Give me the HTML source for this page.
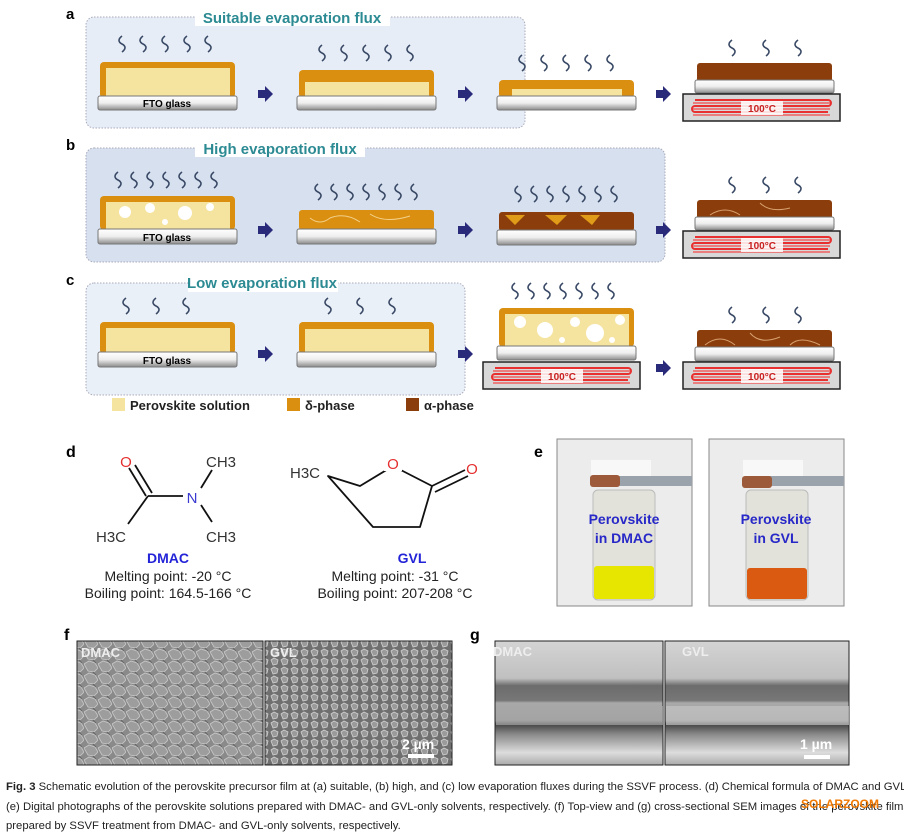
<!DOCTYPE html>
<html><head><meta charset="utf-8"><style>
body{margin:0;background:#fff;width:904px;height:838px;overflow:hidden;position:relative}
svg{display:block}
text{font-family:"Liberation Sans",sans-serif}
.cap{position:absolute;left:6px;font:11.3px "Liberation Sans",sans-serif;color:#222;white-space:nowrap}
</style></head><body>
<svg width="904" height="838" viewBox="0 0 904 838">
<defs>
<linearGradient id="gl" x1="0" y1="0" x2="0" y2="1"><stop offset="0" stop-color="#fff"/><stop offset="0.5" stop-color="#eee"/><stop offset="1" stop-color="#8a8a8a"/></linearGradient>
<path id="sq" d="M0,0 c-4,3 -4,6 0,8 c4,2 4,5 0,8" fill="none" stroke="#3a4a66" stroke-width="1.6"/>
<g id="arr"><path d="M0,-4 h7 v-4 l8,8 l-8,8 v-4 h-7z" fill="#2a2a7a"/></g>
<g id="hot"><rect x="0" y="0" width="157" height="27" fill="#d8d8d8" stroke="#222" stroke-width="1.5"/>
<path d="M12,6 h133 a3,3 0 0 1 0,6 h-133 a3,3 0 0 0 0,6 h133" fill="none" stroke="#e83030" stroke-width="2"/>
<path d="M10,9 h137 M10,15 h137 M10,21 h137" stroke="#f06060" stroke-width="1.5"/>
<rect x="58" y="7" width="42" height="14" fill="#fff" opacity=".85"/>
<text x="79" y="18" font-size="10" font-weight="bold" fill="#c82020" text-anchor="middle">100°C</text></g>
<pattern id="semf" width="14" height="12" patternUnits="userSpaceOnUse"><rect width="14" height="12" fill="#8a8a8a"/><path d="M0,4 l5,-3 l6,2 l3,5 l-4,4 l-6,-1z" fill="#9d9d9d" stroke="#c8c8c8" stroke-width=".8"/><path d="M9,0 l3,3" stroke="#666"/></pattern>
<pattern id="semg" width="10" height="9" patternUnits="userSpaceOnUse"><rect width="10" height="9" fill="#6f6f6f"/><path d="M1,3 l3,-2 l4,2 l-1,4 l-4,1z" fill="#9a9a9a" stroke="#d0d0d0" stroke-width=".8"/></pattern>
<linearGradient id="xs" x1="0" y1="0" x2="0" y2="1"><stop offset="0" stop-color="#d4d4d4"/><stop offset=".3" stop-color="#c0c0c0"/><stop offset=".36" stop-color="#6c6c6c"/><stop offset=".48" stop-color="#777"/><stop offset=".5" stop-color="#aaa"/><stop offset=".64" stop-color="#999"/><stop offset=".67" stop-color="#444"/><stop offset=".75" stop-color="#888"/><stop offset=".9" stop-color="#ddd"/><stop offset="1" stop-color="#aaa"/></linearGradient>
</defs>

<text x="66" y="19" font-size="15" font-weight="bold">a</text>
<rect x="86" y="17" width="439" height="111" rx="8" fill="#e6edf7" stroke="#aab" stroke-dasharray="1.5,1.5"/>
<rect x="195" y="10" width="195" height="16" fill="#fff"/>
<text x="292" y="23" font-size="15" font-weight="bold" fill="#2c8a93" text-anchor="middle">Suitable evaporation flux</text>
<rect x="100" y="62" width="135" height="36" rx="4" fill="#da8f10"/><rect x="106" y="68" width="124" height="30" fill="#f5e3a0"/>
<rect x="98" y="96" width="139" height="14" rx="2" fill="url(#gl)" stroke="#777"/><text x="167" y="107" font-size="10" font-weight="bold" text-anchor="middle">FTO glass</text>
<use href="#sq" x="122" y="36"/><use href="#sq" x="143" y="36"/><use href="#sq" x="165" y="36"/><use href="#sq" x="187" y="36"/><use href="#sq" x="208" y="36"/>
<use href="#arr" x="258" y="94"/>
<rect x="299" y="70" width="135" height="28" rx="4" fill="#da8f10"/><rect x="305" y="82" width="124" height="16" fill="#f5e3a0"/>
<rect x="297" y="96" width="139" height="14" rx="2" fill="url(#gl)" stroke="#777"/>
<use href="#sq" x="322" y="45"/><use href="#sq" x="344" y="45"/><use href="#sq" x="366" y="45"/><use href="#sq" x="388" y="45"/><use href="#sq" x="410" y="45"/>
<use href="#arr" x="458" y="94"/>
<rect x="499" y="80" width="135" height="18" rx="4" fill="#da8f10"/><rect x="512" y="89" width="110" height="9" fill="#f5e3a0"/>
<rect x="497" y="96" width="139" height="14" rx="2" fill="url(#gl)" stroke="#777"/>
<use href="#sq" x="522" y="55"/><use href="#sq" x="544" y="55"/><use href="#sq" x="566" y="55"/><use href="#sq" x="588" y="55"/><use href="#sq" x="610" y="55"/>
<use href="#arr" x="656" y="94"/>
<rect x="697" y="63" width="135" height="19" rx="3" fill="#8b3e0c"/>
<rect x="695" y="80" width="139" height="13" rx="2" fill="url(#gl)" stroke="#777"/>
<use href="#hot" x="683" y="94"/>
<use href="#sq" x="732" y="40"/><use href="#sq" x="766" y="40"/><use href="#sq" x="798" y="40"/>

<text x="66" y="150" font-size="15" font-weight="bold">b</text>
<rect x="86" y="148" width="579" height="114" rx="8" fill="#d6e0ef" stroke="#aab" stroke-dasharray="1.5,1.5"/>
<rect x="195" y="141" width="170" height="16" fill="#fff"/>
<text x="280" y="154" font-size="15" font-weight="bold" fill="#2c8a93" text-anchor="middle">High evaporation flux</text>
<rect x="100" y="196" width="135" height="34" rx="4" fill="#da8f10"/><rect x="106" y="202" width="124" height="28" fill="#f5e3a0"/>
<circle cx="125" cy="212" r="6" fill="#fff"/><circle cx="150" cy="208" r="5" fill="#fff"/><circle cx="185" cy="213" r="7" fill="#fff"/><circle cx="210" cy="207" r="4" fill="#fff"/><circle cx="165" cy="222" r="3" fill="#fff"/>
<rect x="98" y="229" width="139" height="15" rx="2" fill="url(#gl)" stroke="#777"/><text x="167" y="241" font-size="10" font-weight="bold" text-anchor="middle">FTO glass</text>
<use href="#sq" x="118" y="172"/><use href="#sq" x="134" y="172"/><use href="#sq" x="150" y="172"/><use href="#sq" x="166" y="172"/><use href="#sq" x="182" y="172"/><use href="#sq" x="198" y="172"/><use href="#sq" x="214" y="172"/>
<use href="#arr" x="258" y="230"/>
<rect x="299" y="210" width="135" height="20" rx="3" fill="#da8f10"/><path d="M310,218 q10,8 20,0 q15,-6 30,4 M370,214 q15,10 40,2" stroke="#f3d08a" fill="none"/>
<rect x="297" y="229" width="139" height="15" rx="2" fill="url(#gl)" stroke="#777"/>
<use href="#sq" x="318" y="184"/><use href="#sq" x="334" y="184"/><use href="#sq" x="350" y="184"/><use href="#sq" x="366" y="184"/><use href="#sq" x="382" y="184"/><use href="#sq" x="398" y="184"/><use href="#sq" x="414" y="184"/>
<use href="#arr" x="458" y="230"/>
<rect x="499" y="212" width="135" height="19" rx="3" fill="#8b3e0c"/><path d="M505,215 l20,0 l-10,10z M545,215 l22,0 l-10,10z M580,215 l20,0 l-8,10z" fill="#e09c18"/>
<rect x="497" y="230" width="139" height="15" rx="2" fill="url(#gl)" stroke="#777"/>
<use href="#sq" x="518" y="186"/><use href="#sq" x="534" y="186"/><use href="#sq" x="550" y="186"/><use href="#sq" x="566" y="186"/><use href="#sq" x="582" y="186"/><use href="#sq" x="598" y="186"/><use href="#sq" x="614" y="186"/>
<use href="#arr" x="656" y="230"/>
<rect x="697" y="200" width="135" height="19" rx="3" fill="#8b3e0c"/><path d="M710,215 q15,-10 30,0 M760,203 q10,10 30,5" stroke="#d8a070" fill="none"/>
<rect x="695" y="217" width="139" height="13" rx="2" fill="url(#gl)" stroke="#777"/>
<use href="#hot" x="683" y="231"/>
<use href="#sq" x="732" y="177"/><use href="#sq" x="766" y="177"/><use href="#sq" x="798" y="177"/>

<text x="66" y="285" font-size="15" font-weight="bold">c</text>
<rect x="86" y="283" width="379" height="112" rx="8" fill="#eaf0f8" stroke="#aab" stroke-dasharray="1.5,1.5"/>
<rect x="188" y="276" width="150" height="16" fill="#fff"/>
<text x="262" y="288" font-size="15" font-weight="bold" fill="#2c8a93" text-anchor="middle">Low evaporation flux</text>
<rect x="100" y="322" width="135" height="32" rx="4" fill="#da8f10"/><rect x="106" y="328" width="124" height="26" fill="#f5e3a0"/>
<rect x="98" y="352" width="139" height="15" rx="2" fill="url(#gl)" stroke="#777"/><text x="167" y="364" font-size="10" font-weight="bold" text-anchor="middle">FTO glass</text>
<use href="#sq" x="126" y="298"/><use href="#sq" x="156" y="298"/><use href="#sq" x="186" y="298"/>
<use href="#arr" x="258" y="354"/>
<rect x="299" y="322" width="135" height="32" rx="4" fill="#da8f10"/><rect x="305" y="329" width="124" height="25" fill="#f5e3a0"/>
<rect x="297" y="352" width="139" height="15" rx="2" fill="url(#gl)" stroke="#777"/>
<use href="#sq" x="328" y="298"/><use href="#sq" x="360" y="298"/><use href="#sq" x="392" y="298"/>
<use href="#arr" x="458" y="354"/>
<rect x="499" y="308" width="135" height="39" rx="4" fill="#da8f10"/><rect x="505" y="314" width="124" height="33" fill="#f5e3a0"/>
<circle cx="520" cy="322" r="6" fill="#fff"/><circle cx="545" cy="330" r="8" fill="#fff"/><circle cx="575" cy="322" r="5" fill="#fff"/><circle cx="595" cy="333" r="9" fill="#fff"/><circle cx="620" cy="320" r="5" fill="#fff"/><circle cx="562" cy="340" r="3" fill="#fff"/><circle cx="612" cy="340" r="3" fill="#fff"/>
<rect x="497" y="346" width="139" height="14" rx="2" fill="url(#gl)" stroke="#777"/>
<use href="#hot" x="483" y="362"/>
<use href="#sq" x="515" y="283"/><use href="#sq" x="531" y="283"/><use href="#sq" x="547" y="283"/><use href="#sq" x="563" y="283"/><use href="#sq" x="579" y="283"/><use href="#sq" x="595" y="283"/><use href="#sq" x="611" y="283"/>
<use href="#arr" x="656" y="368"/>
<rect x="697" y="330" width="135" height="19" rx="3" fill="#8b3e0c"/><path d="M705,345 q15,-12 30,0 M750,333 q10,12 30,4 M790,345 q10,-10 30,0" stroke="#d8a070" fill="none"/>
<rect x="695" y="347" width="139" height="14" rx="2" fill="url(#gl)" stroke="#777"/>
<use href="#hot" x="683" y="362"/>
<use href="#sq" x="732" y="307"/><use href="#sq" x="766" y="307"/><use href="#sq" x="798" y="307"/>

<rect x="112" y="398" width="13" height="13" fill="#f5e3a0"/><text x="130" y="410" font-size="13" font-weight="bold" fill="#222">Perovskite solution</text>
<rect x="287" y="398" width="13" height="13" fill="#da8f10"/><text x="305" y="410" font-size="13" font-weight="bold" fill="#222">δ-phase</text>
<rect x="406" y="398" width="13" height="13" fill="#8b3e0c"/><text x="424" y="410" font-size="13" font-weight="bold" fill="#222">α-phase</text>

<text x="66" y="457" font-size="16" font-weight="bold">d</text>
<g stroke="#111" stroke-width="1.8" fill="none">
<path d="M129,468 L146,496 M135,465 L152,493"/>
<path d="M148,496 L183,496"/>
<path d="M148,496 L128,524"/>
<path d="M201,488 L212,470"/>
<path d="M201,505 L212,522"/>
<path d="M328,476 L360,486 L393,466 L432,486 L420,527 L373,527 Z" stroke-linejoin="round"/>
<path d="M432,486 L465,470 M435,492 L468,476"/>
</g>
<rect x="384" y="455" width="18" height="16" fill="#fff"/>
<text x="126" y="467" font-size="15" fill="#e53030" text-anchor="middle">O</text>
<text x="192" y="503" font-size="15" fill="#3a3ad0" text-anchor="middle">N</text>
<text x="206" y="467" font-size="15" fill="#333">CH3</text>
<text x="206" y="542" font-size="15" fill="#333">CH3</text>
<text x="96" y="542" font-size="15" fill="#333">H3C</text>
<text x="393" y="469" font-size="15" fill="#e53030" text-anchor="middle">O</text>
<text x="472" y="474" font-size="15" fill="#e53030" text-anchor="middle">O</text>
<text x="290" y="478" font-size="15" fill="#333">H3C</text>
<text x="168" y="563" font-size="14" font-weight="bold" fill="#2323d8" text-anchor="middle">DMAC</text>
<text x="168" y="581" font-size="14" fill="#222" text-anchor="middle">Melting point: -20 °C</text>
<text x="168" y="598" font-size="14" fill="#222" text-anchor="middle">Boiling point: 164.5-166 °C</text>
<text x="412" y="563" font-size="14" font-weight="bold" fill="#2323d8" text-anchor="middle">GVL</text>
<text x="395" y="581" font-size="14" fill="#222" text-anchor="middle">Melting point: -31 °C</text>
<text x="395" y="598" font-size="14" fill="#222" text-anchor="middle">Boiling point: 207-208 °C</text>

<text x="534" y="457" font-size="16" font-weight="bold">e</text>
<rect x="557" y="439" width="135" height="167" fill="#ececec" stroke="#888"/>
<rect x="709" y="439" width="135" height="167" fill="#ececec" stroke="#888"/>
<rect x="591" y="460" width="60" height="18" fill="#f8f8f8"/>
<rect x="743" y="460" width="60" height="18" fill="#f8f8f8"/>
<rect x="593" y="490" width="62" height="110" rx="5" fill="#e2e2da" stroke="#bbb"/>
<rect x="746" y="490" width="62" height="110" rx="5" fill="#e2e2da" stroke="#bbb"/>
<rect x="594" y="566" width="60" height="33" rx="3" fill="#e6e600"/>
<rect x="747" y="568" width="60" height="31" rx="3" fill="#d95a10"/>
<rect x="605" y="476" width="87" height="10" fill="#9aa3ab"/><rect x="590" y="475" width="30" height="12" rx="3" fill="#9c5a3a"/>
<rect x="758" y="476" width="86" height="10" fill="#9aa3ab"/><rect x="742" y="476" width="30" height="12" rx="3" fill="#9c5a3a"/>
<text x="624" y="524" font-size="14" font-weight="bold" fill="#2828c8" text-anchor="middle">Perovskite</text>
<text x="624" y="543" font-size="14" font-weight="bold" fill="#2828c8" text-anchor="middle">in DMAC</text>
<text x="776" y="524" font-size="14" font-weight="bold" fill="#2828c8" text-anchor="middle">Perovskite</text>
<text x="776" y="543" font-size="14" font-weight="bold" fill="#2828c8" text-anchor="middle">in GVL</text>

<text x="64" y="640" font-size="16" font-weight="bold">f</text>
<rect x="77" y="641" width="186" height="124" fill="url(#semf)" stroke="#222"/>
<rect x="265" y="641" width="187" height="124" fill="url(#semg)" stroke="#222"/>
<text x="81" y="657" font-size="13" font-weight="bold" fill="#eee">DMAC</text>
<text x="270" y="657" font-size="13" font-weight="bold" fill="#eee">GVL</text>
<text x="402" y="749" font-size="14" font-weight="bold" fill="#fff">2 µm</text>
<rect x="408" y="754" width="26" height="4" fill="#fff"/>

<text x="470" y="640" font-size="16" font-weight="bold">g</text>
<rect x="495" y="641" width="168" height="124" fill="url(#xs)" stroke="#222"/>
<rect x="665" y="641" width="184" height="124" fill="url(#xs)" stroke="#222"/>
<rect x="496" y="706" width="167" height="19" fill="#a8a8a8" opacity=".7"/>
<rect x="666" y="706" width="183" height="19" fill="#c4c4c4" opacity=".7"/>
<text x="493" y="656" font-size="13" font-weight="bold" fill="#eee">DMAC</text>
<text x="682" y="656" font-size="13" font-weight="bold" fill="#eee">GVL</text>
<text x="800" y="749" font-size="14" font-weight="bold" fill="#fff">1 µm</text>
<rect x="804" y="755" width="26" height="4" fill="#fff"/>
</svg>
<div class="cap" style="top:781px"><b>Fig. 3</b> Schematic evolution of the perovskite precursor film at (a) suitable, (b) high, and (c) low evaporation fluxes during the SSVF process. (d) Chemical formula of DMAC and GVL.</div>
<div class="cap" style="top:801px">(e) Digital photographs of the perovskite solutions prepared with DMAC- and GVL-only solvents, respectively. (f) Top-view and (g) cross-sectional SEM images of the perovskite films</div>
<div class="cap" style="top:820px">prepared by SSVF treatment from DMAC- and GVL-only solvents, respectively.</div>
<div style="position:absolute;left:801px;top:797px;font:bold 12px 'Liberation Sans',sans-serif;color:#f07800">SOLARZOOM</div>
</body></html>
